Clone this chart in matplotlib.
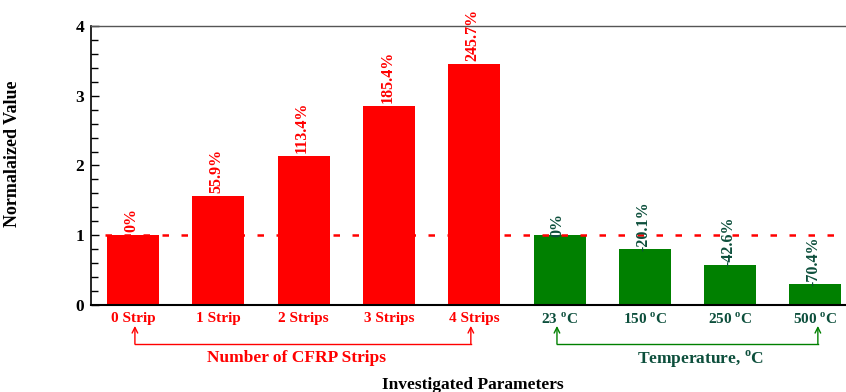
import matplotlib
matplotlib.use("Agg")
import matplotlib.pyplot as plt
from matplotlib.ticker import MultipleLocator

plt.rcParams['font.family'] = ['Liberation Serif', 'DejaVu Serif']
plt.rcParams['font.weight'] = 'bold'
plt.rcParams['mathtext.fontset'] = 'custom'
plt.rcParams['mathtext.rm'] = 'Liberation Serif:bold'
plt.rcParams['mathtext.bf'] = 'Liberation Serif:bold'
plt.rcParams['axes.unicode_minus'] = False

strip_labels = ['0 Strip', '1 Strip', '2 Strips', '3 Strips', '4 Strips']
strip_pct = [0.0, 55.9, 113.4, 185.4, 245.7]
temp_labels = ['23 $^{\\mathrm{o}}$C', '150 $^{\\mathrm{o}}$C', '250 $^{\\mathrm{o}}$C', '500 $^{\\mathrm{o}}$C']
temp_pct = [0.0, -20.1, -42.6, -70.4]

strip_vals = [1 + p / 100 for p in strip_pct]
temp_vals = [1 + p / 100 for p in temp_pct]

RED = '#ff0000'
GREEN = '#008000'
TEAL = '#0d4f3c'

fig = plt.figure(figsize=(8.46, 3.92), dpi=100)
ax = fig.add_axes([91 / 846, 1 - 305 / 392, 1 - 91 / 846, 279 / 392])

xs_s = list(range(len(strip_vals)))
xs_t = [len(strip_vals) + i for i in range(len(temp_vals))]
w = 0.61
ax.bar(xs_s, strip_vals, width=w, color=RED, zorder=2)
ax.bar(xs_t, temp_vals, width=w, color=GREEN, zorder=2)

ax.set_xlim(-0.495, 8.36)
ax.set_ylim(0, 4)

ax.plot([-0.33, 8.5], [1, 1], color=RED, lw=1.8, dashes=(2.6, 5.0), zorder=3, clip_on=True)

for x, v, p in zip(xs_s, strip_vals, strip_pct):
    ax.text(x - 0.02, v + 0.04, f'{p:g}%', rotation=90, ha='center', va='bottom',
            color=RED, fontsize=11.5, fontweight='bold', clip_on=False, zorder=4)
for x, v, p in zip(xs_t, temp_vals, temp_pct):
    ax.text(x - 0.02, v - 0.02, f'{p:g}%', rotation=90, ha='center', va='bottom',
            color=TEAL, fontsize=11.5, fontweight='bold', clip_on=False, zorder=4)

ax.set_xticks(xs_s + xs_t)
ax.set_xticklabels(strip_labels + temp_labels, fontsize=11, fontweight='bold')
for i, lbl in enumerate(ax.get_xticklabels()):
    lbl.set_color(RED if i < len(strip_labels) else TEAL)
ax.tick_params(axis='x', length=0, pad=5)

ax.yaxis.set_major_locator(MultipleLocator(1))
ax.yaxis.set_minor_locator(MultipleLocator(0.2))
ax.tick_params(axis='y', which='major', direction='in', length=6, width=1, labelsize=12.5, pad=5)
ax.tick_params(axis='y', which='minor', direction='in', length=5, width=1)
for lbl in ax.get_yticklabels():
    lbl.set_fontweight('bold')

ax.spines['right'].set_visible(False)
ax.spines['top'].set_color('#555555')
ax.spines['top'].set_linewidth(1.0)
ax.spines['left'].set_linewidth(1.2)
ax.spines['bottom'].set_linewidth(1.5)

ax.set_ylabel('Normalaized Value', fontsize=13, fontweight='bold')
ax.yaxis.set_label_coords(-0.093, 0.541)

trans = ax.get_xaxis_transform()
y_bar = -0.14
y_tip = -0.075
for (xa, xb, col) in [(0.02, 3.96, RED), (4.97, 8.03, GREEN)]:
    ax.plot([xa, xb], [y_bar, y_bar], color=col, lw=1.0, transform=trans, clip_on=False)
    for xx in (xa, xb):
        ax.annotate('', xy=(xx, y_tip), xytext=(xx, y_bar), xycoords=trans, textcoords=trans,
                    arrowprops=dict(arrowstyle='->', color=col, lw=1.0,
                                    shrinkA=0, shrinkB=0, mutation_scale=10),
                    annotation_clip=False)

ax.text(1.92, -0.189, 'Number of CFRP Strips', transform=trans, ha='center', va='center',
        color=RED, fontsize=12.5, fontweight='bold')
ax.text(6.66, -0.194, 'Temperature, $^{\\mathrm{o}}$C', transform=trans, ha='center', va='center',
        color=TEAL, fontsize=12.5, fontweight='bold')
ax.text(3.98, -0.285, 'Investigated Parameters', transform=trans, ha='center', va='center',
        color='black', fontsize=12.5, fontweight='bold')

fig.savefig('out.png', dpi=100)
